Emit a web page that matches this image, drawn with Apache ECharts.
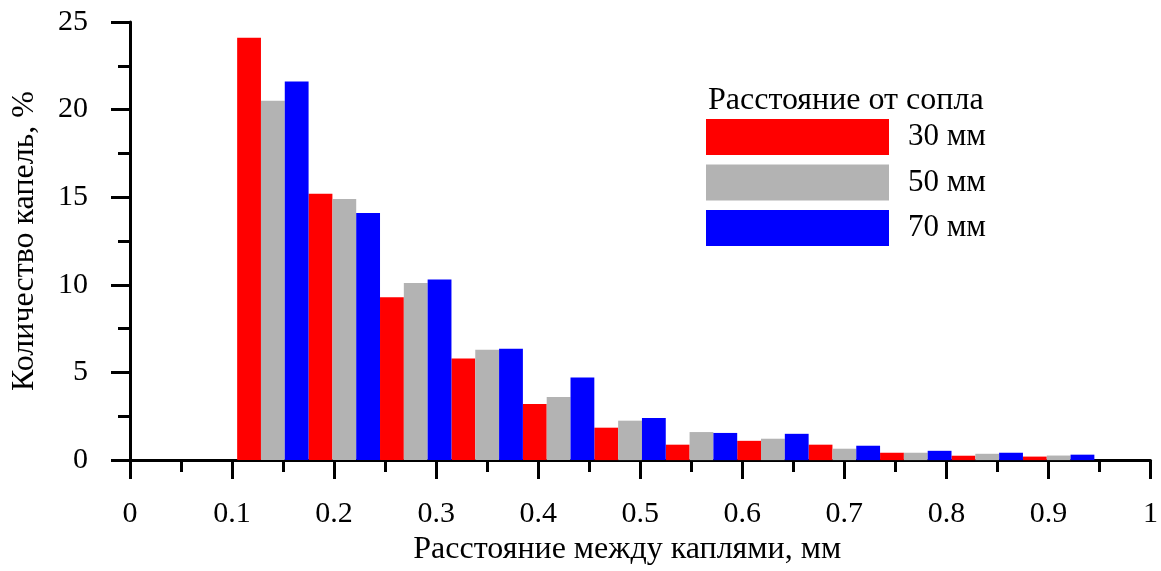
<!DOCTYPE html>
<html>
<head>
<meta charset="utf-8">
<script src="https://cdn.jsdelivr.net/npm/echarts@6/dist/echarts.min.js"></script>
<style>
  html, body { margin: 0; padding: 0; background: #fff; }
  #chart { width: 1161px; height: 571px; }
</style>
</head>
<body>
<div id="chart"></div>
<script>
// Histogram bins: centre of each bin (mm) and common bin width
const binCenters = [0.14, 0.21, 0.28, 0.35, 0.42, 0.49, 0.56, 0.63, 0.70, 0.77, 0.84, 0.91];
const binWidth = 0.07;

// Share of droplets (%) for each nozzle distance
const seriesNames = ['30 мм', '50 мм', '70 мм'];
const seriesColors = ['#ff0000', '#b3b3b3', '#0000ff'];
const values30 = [24.1, 15.2, 9.3, 5.8, 3.2, 1.85, 0.88, 1.1, 0.88, 0.42, 0.25, 0.2];
const values50 = [20.5, 14.9, 10.1, 6.3, 3.6, 2.25, 1.6, 1.22, 0.65, 0.42, 0.36, 0.26];
const values70 = [21.6, 14.1, 10.3, 6.35, 4.72, 2.4, 1.55, 1.5, 0.82, 0.53, 0.42, 0.31];
const allValues = [values30, values50, values70];

const FONT = '"Liberation Serif", "Times New Roman", serif';

const chart = echarts.init(document.getElementById('chart'), null, { renderer: 'canvas' });

function makeSeries(idx) {
  const data = binCenters.map((c, i) => [c, allValues[idx][i]]);
  return {
    name: seriesNames[idx],
    type: 'custom',
    data: data,
    itemStyle: { color: seriesColors[idx] },
    encode: { x: 0, y: 1 },
    renderItem: function (params, api) {
      const center = api.value(0);
      const v = api.value(1);
      const start = center - binWidth / 2 + idx * binWidth / 3;
      const end = start + binWidth / 3;
      const p0 = api.coord([start, v]);
      const p1 = api.coord([end, 0]);
      return {
        type: 'rect',
        shape: { x: p0[0], y: p0[1], width: p1[0] - p0[0], height: p1[1] - p0[1] },
        style: { fill: seriesColors[idx] }
      };
    },
    z: 1
  };
}

const axisLineStyle = { color: '#000', width: 3 };

chart.setOption({
  animation: false,
  backgroundColor: '#fff',
  title: {
    text: 'Расстояние от сопла',
    left: 703,
    top: 80,
    textStyle: { fontFamily: FONT, fontSize: 32, fontWeight: 'normal', color: '#000' }
  },
  legend: {
    orient: 'vertical',
    left: 701,
    top: 114,
    itemWidth: 183,
    itemHeight: 36,
    itemGap: 9.5,
    icon: 'rect',
    data: seriesNames.map((n, i) => ({ name: n, itemStyle: { color: seriesColors[i] } })),
    textStyle: { fontFamily: FONT, fontSize: 31, color: '#000', padding: [0, 0, 0, 14], lineHeight: 36 }
  },
  grid: { left: 130, right: 4, top: 22, bottom: 106, containLabel: false },
  xAxis: {
    type: 'value',
    min: 0,
    max: 1,
    interval: 0.1,
    name: 'Расстояние между каплями, мм',
    nameLocation: 'middle',
    nameGap: 72,
    nameTextStyle: { fontFamily: FONT, fontSize: 32, color: '#000', padding: [0, 26, 0, 0] },
    axisLine: { show: true, onZero: false, lineStyle: axisLineStyle },
    axisTick: { show: true, inside: false, length: 19, lineStyle: { color: '#000', width: 3 } },
    minorTick: { show: true, splitNumber: 2, length: 12, lineStyle: { color: '#000', width: 3 } },
    axisLabel: { fontFamily: FONT, fontSize: 30, color: '#000', margin: 39 },
    splitLine: { show: false },
    minorSplitLine: { show: false }
  },
  yAxis: {
    type: 'value',
    min: 0,
    max: 25,
    interval: 5,
    name: 'Количество капель, %',
    nameLocation: 'middle',
    nameGap: 89,
    nameTextStyle: { fontFamily: FONT, fontSize: 32, color: '#000' },
    axisLine: { show: true, lineStyle: axisLineStyle },
    axisTick: { show: true, inside: false, length: 19, lineStyle: { color: '#000', width: 3 } },
    minorTick: { show: true, splitNumber: 2, length: 12, lineStyle: { color: '#000', width: 3 } },
    axisLabel: { fontFamily: FONT, fontSize: 30, color: '#000', margin: 42 },
    splitLine: { show: false },
    minorSplitLine: { show: false }
  },
  series: [makeSeries(0), makeSeries(1), makeSeries(2)]
});
</script>
</body>
</html>
